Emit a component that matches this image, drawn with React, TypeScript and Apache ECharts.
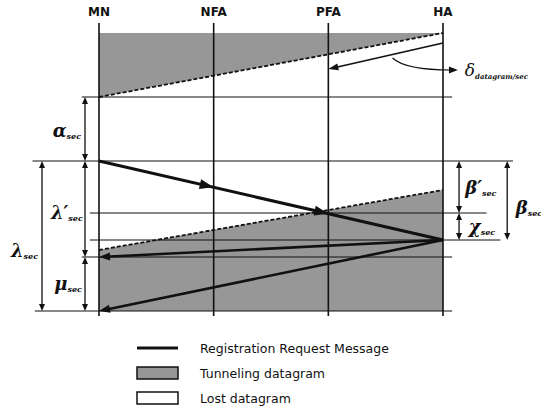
import React, { useEffect, useRef } from 'react';
import * as echarts from 'echarts';

// x axis: network nodes (0..3); y axis: time (ms, grows downward)
const nodes = ['MN', 'NFA', 'PFA', 'HA'];
const timeRange = [0, 293];

// tunnelled datagram regions (node, time)
const tunnelAreas = [
  [[0, 10], [3, 10], [0, 74]],
  [[0, 227], [3, 167], [3, 288], [0, 288]],
];
const tunnelEdges = [
  [[0, 74], [3, 10]],
  [[0, 227], [3, 167]],
];

// messages: from (node, time) to (node, time)
const registration = { from: [0, 138], to: [3, 217], marks: [1, 2] };
const replies = [
  { from: [3, 217], to: [0, 234] },
  { from: [3, 217], to: [0, 288] },
];
const lostDatagram = { from: [3, 20], to: [2, 46] };

// horizontal reference lines: [time, fromNode, toNode]
const guides = [
  [74, -0.15, 3.08],
  [138, -0.58, 3.61],
  [190, -0.08, 3.38],
  [217, -0.08, 3.5],
  [234, -0.15, 3.08],
  [288, -0.56, 3.08],
];

// dimension arrows: [node position, time start, time end]
const dims = [
  [-0.122, 74, 138],
  [-0.122, 138, 234],
  [-0.122, 234, 288],
  [-0.497, 138, 288],
  [3.14, 138, 190],
  [3.14, 190, 217],
  [3.56, 138, 217],
];

// labels: [node position, time, symbol, subscript]
const labels: [number, number, string, string][] = [
  [-0.28, 107, 'α', 'sec'],
  [-0.28, 189, 'λ′', 'sec'],
  [-0.27, 260, 'μ', 'sec'],
  [-0.65, 227, 'λ', 'sec'],
  [3.33, 164, 'β′', 'sec'],
  [3.34, 203, 'χ', 'sec'],
  [3.75, 184, 'β', 'sec'],
];
const deltaLabel = { at: [3.19, 47], symbol: 'δ', sub: 'datagram/sec' };
const deltaCurve = { from: [2.56, 35], ctrl: [2.67, 47], to: [3.13, 47] };

const legendItems = ['Registration Request Message', 'Tunneling datagram', 'Lost datagram'];

const SHADE = '#979797';
const INK = '#111';

function arrowHead(tx: number, ty: number, ux: number, uy: number, len: number, hw: number, fill = INK) {
  const bx = tx - ux * len;
  const by = ty - uy * len;
  const nx = -uy;
  const ny = ux;
  return {
    type: 'polygon',
    shape: { points: [[tx, ty], [bx + nx * hw, by + ny * hw], [bx - nx * hw, by - ny * hw]] },
    style: { fill },
  };
}

function arrowLine(p1: number[], p2: number[], width: number, len: number, hw: number) {
  const dx = p2[0] - p1[0];
  const dy = p2[1] - p1[1];
  const d = Math.hypot(dx, dy);
  const ux = dx / d;
  const uy = dy / d;
  return [
    {
      type: 'line',
      shape: { x1: p1[0], y1: p1[1], x2: p2[0] - ux * len * 0.6, y2: p2[1] - uy * len * 0.6 },
      style: { stroke: INK, lineWidth: width },
    },
    arrowHead(p2[0], p2[1], ux, uy, len, hw),
  ];
}

export default function App() {
  const ref = useRef<HTMLDivElement>(null);
  useEffect(() => {
    if (!ref.current) return;
    const chart = echarts.init(ref.current, null, { renderer: 'svg' });
    const greekFont = '"DejaVu Serif", serif';
    const option: any = {
      animation: false,
      grid: { left: 99, right: 98, top: 23, height: 293 },
      xAxis: {
        type: 'value',
        position: 'top',
        min: 0,
        max: 3,
        interval: 1,
        axisLine: { show: false },
        axisTick: { show: false },
        splitLine: { show: false },
        axisLabel: {
          margin: 5,
          formatter: (v: number) => nodes[v] ?? '',
          color: INK,
          fontFamily: '"DejaVu Sans", sans-serif',
          fontWeight: 'bold',
          fontSize: 12,
        },
      },
      yAxis: {
        type: 'value',
        inverse: true,
        min: timeRange[0],
        max: timeRange[1],
        show: false,
        splitLine: { show: false },
      },
      series: [
        {
          type: 'custom',
          name: 'areas',
          data: tunnelAreas.map((_, i) => [i]),
          renderItem: (params: any, api: any) => {
            const pts = tunnelAreas[params.dataIndex].map((p) => api.coord(p));
            const e = tunnelEdges[params.dataIndex].map((p) => api.coord(p));
            return {
              type: 'group',
              children: [
                { type: 'polygon', shape: { points: pts }, style: { fill: SHADE } },
                {
                  type: 'line',
                  shape: { x1: e[0][0], y1: e[0][1], x2: e[1][0], y2: e[1][1] },
                  style: { stroke: INK, lineWidth: 1.8, lineDash: [4, 2] },
                },
              ],
            };
          },
        },
        {
          type: 'custom',
          name: 'nodes',
          data: nodes.map((_, i) => [i]),
          renderItem: (params: any, api: any) => {
            const i = params.dataIndex;
            const a = api.coord([i, timeRange[0]]);
            const b = api.coord([i, timeRange[1]]);
            return {
              type: 'line',
              shape: { x1: a[0], y1: a[1], x2: b[0], y2: b[1] },
              style: { stroke: INK, lineWidth: 1.6 },
            };
          },
        },
        {
          type: 'custom',
          name: 'guides',
          data: guides.map((g) => [g[1], g[0]]),
          renderItem: (params: any, api: any) => {
            const g = guides[params.dataIndex];
            const a = api.coord([g[1], g[0]]);
            const b = api.coord([g[2], g[0]]);
            return {
              type: 'line',
              shape: { x1: a[0], y1: a[1], x2: b[0], y2: b[1] },
              style: { stroke: INK, lineWidth: 1.1 },
            };
          },
        },
        {
          type: 'custom',
          name: 'messages',
          data: [0, 1, 2, 3].map((i) => [i]),
          renderItem: (params: any, api: any) => {
            const i = params.dataIndex;
            if (i === 0) {
              const p1 = api.coord(registration.from);
              const p2 = api.coord(registration.to);
              const dx = p2[0] - p1[0];
              const dy = p2[1] - p1[1];
              const d = Math.hypot(dx, dy);
              const ux = dx / d;
              const uy = dy / d;
              const children: any[] = [
                { type: 'line', shape: { x1: p1[0], y1: p1[1], x2: p2[0], y2: p2[1] }, style: { stroke: INK, lineWidth: 3 } },
              ];
              registration.marks.forEach((n) => {
                const px = api.coord([n, 0])[0];
                const t = (px - p1[0]) / dx;
                children.push(arrowHead(p1[0] + dx * t, p1[1] + dy * t, ux, uy, 14, 5));
              });
              return { type: 'group', children };
            }
            if (i === 3) {
              return {
                type: 'group',
                children: arrowLine(api.coord(lostDatagram.from), api.coord(lostDatagram.to), 1.6, 10, 3.5),
              };
            }
            const r = replies[i - 1];
            return { type: 'group', children: arrowLine(api.coord(r.from), api.coord(r.to), 2.6, 11, 4) };
          },
        },
        {
          type: 'custom',
          name: 'dims',
          data: dims.map((d) => [d[0], d[1]]),
          renderItem: (params: any, api: any) => {
            const d = dims[params.dataIndex];
            const a = api.coord([d[0], d[1]]);
            const b = api.coord([d[0], d[2]]);
            return {
              type: 'group',
              children: [
                { type: 'line', shape: { x1: a[0], y1: a[1] + 4, x2: b[0], y2: b[1] - 4 }, style: { stroke: INK, lineWidth: 1.3 } },
                arrowHead(a[0], a[1], 0, -1, 7, 3),
                arrowHead(b[0], b[1], 0, 1, 7, 3),
              ],
            };
          },
        },
        {
          type: 'custom',
          name: 'delta',
          data: [[deltaCurve.from[0], deltaCurve.from[1]]],
          renderItem: (params: any, api: any) => {
            const s = api.coord(deltaCurve.from);
            const c = api.coord(deltaCurve.ctrl);
            const e = api.coord(deltaCurve.to);
            return {
              type: 'group',
              children: [
                {
                  type: 'bezierCurve',
                  shape: { x1: s[0], y1: s[1], cpx1: c[0], cpy1: c[1], x2: e[0] - 6, y2: e[1] },
                  style: { stroke: INK, lineWidth: 1.2, fill: 'none' },
                },
                arrowHead(e[0], e[1], 1, 0, 9, 3.5),
              ],
            };
          },
        },
        {
          type: 'custom',
          name: 'labels',
          data: labels.map((l) => [l[0], l[1]]),
          renderItem: (params: any, api: any) => {
            const l = labels[params.dataIndex];
            const p = api.coord([l[0], l[1]]);
            return {
              type: 'text',
              x: p[0],
              y: p[1],
              style: {
                text: `{g|${l[2]}}{s|${l[3]}}`,
                align: 'center',
                verticalAlign: 'middle',
                rich: {
                  g: { fontFamily: greekFont, fontStyle: 'italic', fontWeight: 'bold', fontSize: 18, fill: INK, lineHeight: 20 },
                  s: { fontFamily: greekFont, fontStyle: 'italic', fontWeight: 'bold', fontSize: 8, fill: INK, verticalAlign: 'bottom', lineHeight: 20, padding: [10, 0, 0, 0] },
                },
              },
            };
          },
        },
        {
          type: 'custom',
          name: 'deltaLabel',
          data: [deltaLabel.at],
          renderItem: (params: any, api: any) => {
            const p = api.coord(deltaLabel.at);
            return {
              type: 'text',
              x: p[0],
              y: p[1],
              style: {
                text: `{g|${deltaLabel.symbol}}{s|${deltaLabel.sub}}`,
                align: 'left',
                verticalAlign: 'middle',
                rich: {
                  g: { fontFamily: greekFont, fontStyle: 'italic', fontSize: 17, fill: INK, lineHeight: 20 },
                  s: { fontFamily: greekFont, fontStyle: 'italic', fontWeight: 'bold', fontSize: 7, fill: INK, verticalAlign: 'bottom', lineHeight: 20, padding: [10, 0, 0, 0] },
                },
              },
            };
          },
        },
      ],
      graphic: [
        { type: 'line', shape: { x1: 137, y1: 348, x2: 178, y2: 348 }, style: { stroke: INK, lineWidth: 3 } },
        { type: 'rect', shape: { x: 137, y: 367, width: 41, height: 12 }, style: { fill: SHADE, stroke: INK, lineWidth: 1.5 } },
        { type: 'rect', shape: { x: 137, y: 392, width: 41, height: 12 }, style: { fill: '#fff', stroke: INK, lineWidth: 1.5 } },
        ...legendItems.map((t, i) => ({
          type: 'text',
          x: 200,
          y: 348 + i * 25,
          style: {
            text: t,
            fill: INK,
            font: '12.5px "DejaVu Sans", sans-serif',
            verticalAlign: 'middle',
          },
        })),
      ],
    };
    chart.setOption(option);
    return () => chart.dispose();
  }, []);
  return <div ref={ref} style={{ position: 'fixed', left: 0, top: 0, width: 541, height: 416, background: '#fff' }} />;
}
